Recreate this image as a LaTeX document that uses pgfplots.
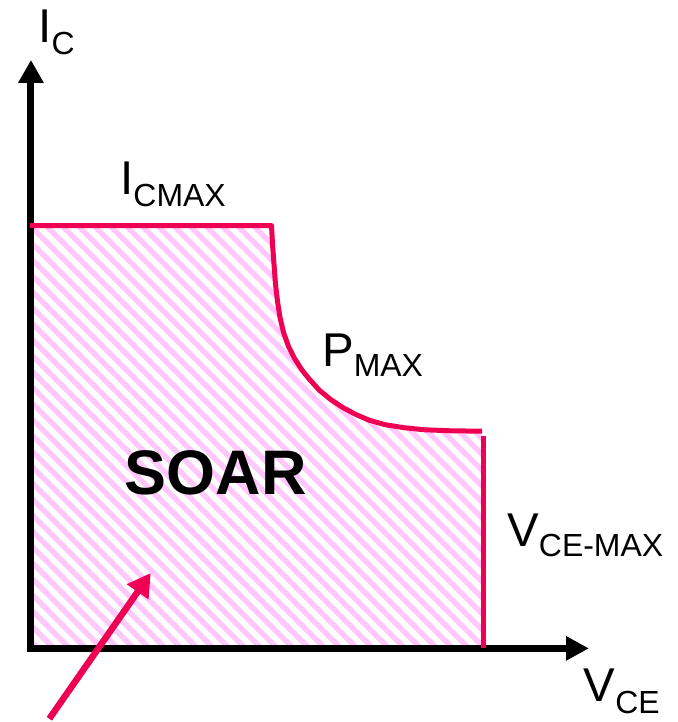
\documentclass[border=0pt]{standalone}
\usepackage{pgfplots}
\pgfplotsset{compat=1.18}
\usepackage{fontspec}
\setmainfont{Liberation Sans}
\usetikzlibrary{arrows.meta,patterns.meta}
\definecolor{soapink}{RGB}{238,0,82}
\definecolor{hatchpink}{RGB}{255,200,252}
\newcommand{\mainf}{\fontsize{47.5bp}{50bp}\selectfont}
\newcommand{\subf}[2]{\raisebox{-#1bp}{\fontsize{32bp}{34bp}\selectfont #2}}
\begin{document}
\begin{tikzpicture}
\begin{axis}[
  width=679bp, height=722bp, scale only axis,
  xmin=0, xmax=679, ymin=0, ymax=722,
  axis line style={draw=none},
  xtick=\empty, ytick=\empty,
  clip=false,
]
% hatched SOAR region
\addplot[draw=none, pattern={Lines[angle=-45,distance=11.3bp,line width=5.5bp]}, pattern color=hatchpink]
coordinates {(31,496) (272,496) (273,477) (274.5,457) (276,437) (278,420) (280.5,404) (284,389) (289,375) (295,363) (302,352) (310,342) (320,331) (331,322) (343,314) (356,307) (370,301) (386,296.5) (405,293.5) (425,291.5) (450,290.5) (483,290) (483,72.5) (31,72.5)} -- cycle;
% axes
\addplot[black, line width=7bp, -{Triangle[length=23bp,width=24bp]}] coordinates {(31,68.5) (31,662)};
\addplot[black, line width=7bp, -{Triangle[length=23bp,width=23bp]}] coordinates {(27.5,72.5) (590,72.5)};
% SOA boundary
\addplot[soapink, line width=5bp, line join=round] coordinates {(30,496) (272,496) (273,477) (274.5,457) (276,437) (278,420) (280.5,404) (284,389) (289,375) (295,363) (302,352) (310,342) (320,331) (331,322) (343,314) (356,307) (370,301) (386,296.5) (405,293.5) (425,291.5) (450,290.5) (483,290)};
\addplot[soapink, line width=5bp] coordinates {(484,285) (484,73)};
% pointer arrow
\addplot[soapink, line width=6.5bp, -{Triangle[length=23bp,width=25bp]}] coordinates {(49.4,2) (151,148)};
% labels
\node[anchor=base west, inner sep=0pt] at (axis cs:38.3,679) {\mainf I\subf{12}{C}};
\node[anchor=base west, inner sep=0pt] at (axis cs:120.3,527) {\mainf I\subf{12}{CMAX}};
\node[anchor=base west, inner sep=0pt] at (axis cs:322.5,355) {\mainf P\subf{10}{MAX}};
\node[anchor=base west, inner sep=0pt] at (axis cs:125,227) {\fontsize{63bp}{66bp}\selectfont\bfseries SOAR};
\node[anchor=base west, inner sep=0pt] at (axis cs:508,175) {\mainf V\subf{10}{CE-MAX}};
\node[anchor=base west, inner sep=0pt] at (axis cs:584.5,19) {\mainf V\subf{12}{CE}};
\end{axis}
\end{tikzpicture}
\end{document}
